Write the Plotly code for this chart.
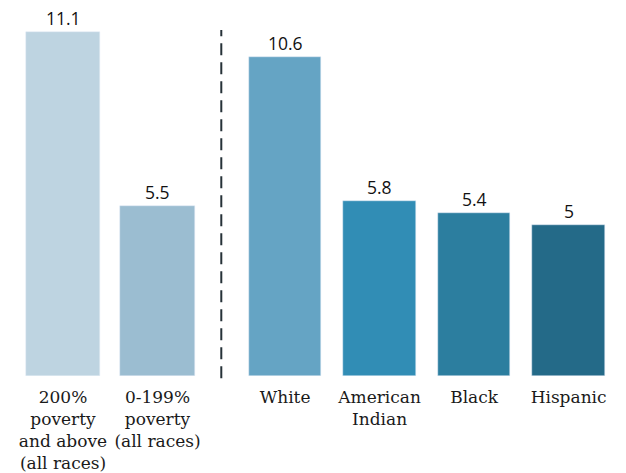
import plotly.graph_objects as go

# Data
group_a_labels = ["200%<br>poverty<br>and above<br>(all races)", "0-199%<br>poverty<br>(all races)"]
group_a_values = [11.1, 5.5]
group_b_labels = ["White", "American<br>Indian", "Black", "Hispanic"]
group_b_values = [10.6, 5.8, 5.4, 5]

group_a_colors = ["#bed4e1", "#9bbdd1"]
group_b_colors = ["#65a4c4", "#318db5", "#2c7e9f", "#246a88"]

GAP = 1.35  # distance between the two groups (in bar units)
pos_a = list(range(len(group_a_values)))
pos_b = [pos_a[-1] + GAP + i for i in range(len(group_b_values))]
sep_x = (pos_a[-1] + pos_b[0]) / 2

W, H = 626, 473
M_T, M_B = 20, 95
plot_h = H - M_T - M_B
unit_px = 94.5
x0 = -63 / unit_px
x1 = x0 + W / unit_px

fig = go.Figure()
fig.add_trace(go.Bar(x=pos_a, y=group_a_values, marker_color=group_a_colors,
                     width=0.79, yaxis="y", showlegend=False, hoverinfo="skip"))
fig.add_trace(go.Bar(x=pos_b, y=group_b_values, marker_color=group_b_colors,
                     width=0.77, yaxis="y2", showlegend=False, hoverinfo="skip"))

val_font = dict(family="Open Sans", size=17.5, color="#111111")
for x, v in zip(pos_a, group_a_values):
    fig.add_annotation(x=x, y=v, xref="x", yref="y", text=f"{v:g}", showarrow=False,
                       yanchor="bottom", yshift=0, font=val_font)
for x, v in zip(pos_b, group_b_values):
    fig.add_annotation(x=x, y=v, xref="x", yref="y2", text=f"{v:g}", showarrow=False,
                       yanchor="bottom", yshift=0, font=val_font)

# dashed separator between groups
fig.add_shape(type="line", xref="x", yref="paper", x0=sep_x, x1=sep_x,
              y0=-0.006, y1=0.972, line=dict(color="#263238", width=2, dash="12px,7px"))

fig.update_layout(
    width=W, height=H,
    margin=dict(l=0, r=0, t=M_T, b=M_B),
    paper_bgcolor="white", plot_bgcolor="white",
    bargap=0,
    xaxis=dict(range=[x0, x1], tickvals=pos_a + pos_b, ticktext=group_a_labels + group_b_labels,
               showgrid=False, zeroline=False, showline=False, ticks="", ticklabelstandoff=9,
               tickfont=dict(family="DejaVu Serif", size=17, color="#1a1a1a")),
    yaxis=dict(range=[0, plot_h / 31.15], visible=False, showgrid=False, zeroline=False),
    yaxis2=dict(range=[0, plot_h / 30.3], visible=False, overlaying="y", showgrid=False, zeroline=False),
)

fig.write_html("out.html", config={"displayModeBar": False},
               post_script="document.body.style.margin='0';")
